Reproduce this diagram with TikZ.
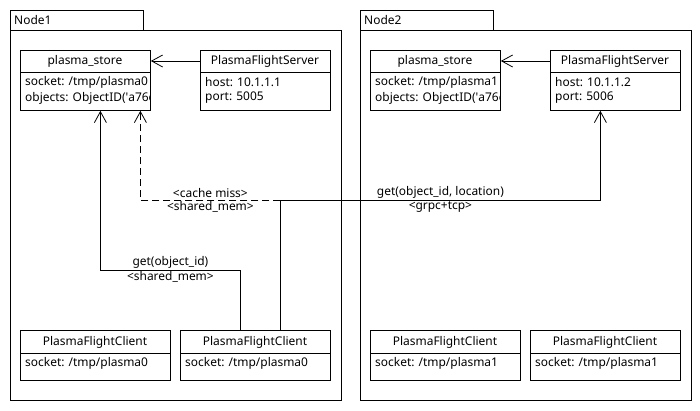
\documentclass[tikz,border=0pt]{standalone}
\usepackage{fontspec}
\setmainfont{Noto Sans}
\usetikzlibrary{positioning,arrows.meta}

\begin{document}
\begin{tikzpicture}[x=1bp, y=-1bp,
    every node/.style={font=\fontsize{12}{14}\selectfont},
    pkg/.style={draw, line width=0.8bp, anchor=north west, inner sep=0pt},
    cls/.style={draw, line width=0.8bp, anchor=north west, inner sep=0pt},
    attr/.style={anchor=west, inner sep=0pt},
    lbl/.style={inner sep=1.5bp},
    link/.style={line width=0.8bp, -{Straight Barb[length=11bp, width=12bp, line width=0.8bp]}}]
    \useasboundingbox (0,0) rectangle (700,410);

    % packages
    \node[pkg, minimum width=133bp, minimum height=20bp] (tab1) at (10,10) {};
    \node[attr] at ([xshift=4bp]tab1.west) {Node1};
    \node[pkg, minimum width=331bp, minimum height=370bp] (pkg1) at (10,30) {};
    \node[pkg, minimum width=133bp, minimum height=20bp] (tab2) at (360,10) {};
    \node[attr] at ([xshift=4bp]tab2.west) {Node2};
    \node[pkg, minimum width=331bp, minimum height=370bp] (pkg2) at (360,30) {};

    % Node1
    \node[cls, minimum width=130bp, minimum height=60bp] (store1) at (20,50) {};
    \node (store1t) at (85,61) {plasma\_store};
    \draw[line width=0.8bp] ([yshift=-22bp]store1.north west) -- ([yshift=-22bp]store1.north east);
    \begin{scope}
        \clip (store1.south west) rectangle (store1.north east);
        \node[attr] at (25,82) {socket: /tmp/plasma0};
        \node[attr] at (25,98) {objects: ObjectID(\textquotesingle a76c};
    \end{scope}

    \node[cls, minimum width=130bp, minimum height=60bp] (server1) at (200,50) {};
    \node (server1t) at (265,61) {PlasmaFlightServer};
    \draw[line width=0.8bp] ([yshift=-22bp]server1.north west) -- ([yshift=-22bp]server1.north east);
    \node[attr] at (205,82) {host: 10.1.1.1};
    \node[attr] at (205,98) {port: 5005};

    \node[cls, minimum width=150bp, minimum height=50bp] (client1) at (20,330) {};
    \node at (95,342) {PlasmaFlightClient};
    \draw[line width=0.8bp] ([yshift=-23bp]client1.north west) -- ([yshift=-23bp]client1.north east);
    \node[attr] at (25,363) {socket: /tmp/plasma0};

    \node[cls, minimum width=150bp, minimum height=50bp] (client2) at (180,330) {};
    \node at (255,342) {PlasmaFlightClient};
    \draw[line width=0.8bp] ([yshift=-23bp]client2.north west) -- ([yshift=-23bp]client2.north east);
    \node[attr] at (185,363) {socket: /tmp/plasma0};

    % Node2
    \node[cls, minimum width=130bp, minimum height=60bp] (store2) at (370,50) {};
    \node (store2t) at (435,61) {plasma\_store};
    \draw[line width=0.8bp] ([yshift=-22bp]store2.north west) -- ([yshift=-22bp]store2.north east);
    \begin{scope}
        \clip (store2.south west) rectangle (store2.north east);
        \node[attr] at (375,82) {socket: /tmp/plasma1};
        \node[attr] at (375,98) {objects: ObjectID(\textquotesingle a76c};
    \end{scope}

    \node[cls, minimum width=130bp, minimum height=60bp] (server2) at (550,50) {};
    \node (server2t) at (615,61) {PlasmaFlightServer};
    \draw[line width=0.8bp] ([yshift=-22bp]server2.north west) -- ([yshift=-22bp]server2.north east);
    \node[attr] at (555,82) {host: 10.1.1.2};
    \node[attr] at (555,98) {port: 5006};

    \node[cls, minimum width=150bp, minimum height=50bp] (client3) at (370,330) {};
    \node at (445,342) {PlasmaFlightClient};
    \draw[line width=0.8bp] ([yshift=-23bp]client3.north west) -- ([yshift=-23bp]client3.north east);
    \node[attr] at (375,363) {socket: /tmp/plasma1};

    \node[cls, minimum width=150bp, minimum height=50bp] (client4) at (530,330) {};
    \node at (605,342) {PlasmaFlightClient};
    \draw[line width=0.8bp] ([yshift=-23bp]client4.north west) -- ([yshift=-23bp]client4.north east);
    \node[attr] at (535,363) {socket: /tmp/plasma1};

    % connectors
    \coordinate (fork) at ([xshift=25bp]client2.north |- 0,200);
    \draw[link] (server1.west |- server1t) -- (store1.east |- server1t);
    \draw[link] (server2.west |- server2t) -- (store2.east |- server2t);
    \draw[link] ([xshift=-15bp]client2.north) -- ++(0,-60)
        -| node[pos=0.25, above, lbl]{get(object\_id)} node[pos=0.25, below, lbl]{<shared\_mem>}
        ([xshift=15bp]store1.south);
    \draw[link, dash pattern=on 7bp off 4bp] (fork)
        -| node[pos=0.25, above, lbl]{<cache miss>} node[pos=0.25, below, lbl]{<shared\_mem>}
        ([xshift=55bp]store1.south);
    \draw[link] ([xshift=25bp]client2.north) -- (fork)
        -| node[pos=0.25, above, lbl]{get(object\_id, location)} node[pos=0.25, below, lbl]{<grpc+tcp>}
        ([xshift=-15bp]server2.south);
\end{tikzpicture}
\end{document}
